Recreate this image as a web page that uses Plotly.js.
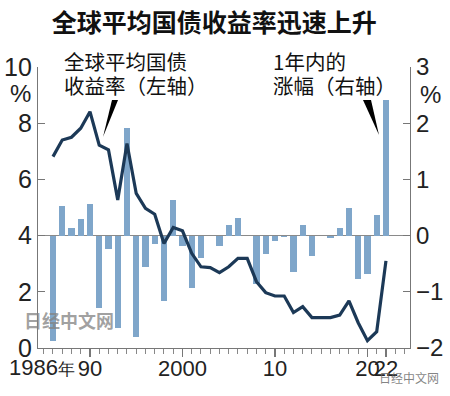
<!DOCTYPE html>
<html>
<head>
<meta charset="utf-8">
<script src="https://cdn.plot.ly/plotly-3.0.1.min.js"></script>
<style>html,body{margin:0;padding:0;background:#fff;}#chart{width:450px;height:396px;}</style>
</head>
<body>
<div id="chart"></div>
<script>
const years = [1986,1987,1988,1989,1990,1991,1992,1993,1994,1995,1996,1997,1998,1999,2000,2001,2002,2003,2004,2005,2006,2007,2008,2009,2010,2011,2012,2013,2014,2015,2016,2017,2018,2019,2020,2021,2022];
const yieldAvg = [6.81,7.40,7.50,7.82,8.41,7.22,7.05,5.27,7.28,5.50,4.97,4.76,3.72,4.29,4.17,3.37,2.89,2.86,2.68,2.89,3.19,3.19,2.36,1.97,1.85,1.85,1.26,1.47,1.08,1.08,1.08,1.17,1.68,0.90,0.26,0.58,3.10];
const yearChange = [-1.87,0.53,0.14,0.30,0.56,-1.28,-0.24,-1.64,1.92,-1.81,-0.55,-0.15,-1.17,0.64,-0.19,-0.93,-0.39,0,-0.19,0.19,0.32,0,-0.87,-0.33,-0.09,-0.03,-0.65,0.18,-0.36,0,-0.04,0.13,0.49,-0.77,-0.68,0.36,2.41];
const xTickVals = [1990,2000,2010,2020,2022];
const xTickText = ["90","2000","10","20","22"];
const leftTicks = [0,2,4,6,8,10];
const rightTicks = [-2,-1,0,1,2,3];

const numFont = "Liberation Sans Narrow, Arial Narrow, Liberation Sans, Arial, sans-serif";
const cjkFont = "Noto Sans CJK SC, sans-serif";

const traces = [
  {type:'bar', x:years, y:yearChange, yaxis:'y', marker:{color:'#7fa6ca'}, width:0.66, hoverinfo:'x+y'},
  {type:'scatter', mode:'lines', x:years, y:yieldAvg, yaxis:'y2', line:{color:'#1c3957', width:3.2}}
];

const P = (px)=> (px-38)/372, Q = (py)=> (348-py)/281;

const layout = {
  width:450, height:396,
  margin:{l:38, r:40, t:67, b:48},
  paper_bgcolor:'#fff', plot_bgcolor:'#fff',
  showlegend:false,
  bargap:0,
  title:{text:'全球平均国债收益率迅速上升', x:0.476, xanchor:'center', y:0.942, yanchor:'middle',
         font:{family:cjkFont, size:25, color:'#111', weight:'bold'}},
  xaxis:{range:[1984.38,2024.6], showgrid:false, zeroline:false, showline:true, linecolor:'#777', linewidth:1.2,
         tickmode:'array', tickvals:xTickVals, ticktext:xTickText, ticks:'outside', ticklen:8, tickcolor:'#777', tickwidth:1.2,
         tickangle:0, ticklabelstandoff:-8,
         minor:{tickmode:'linear', tick0:1986, dtick:1, ticks:'outside', ticklen:5, tickcolor:'#888', tickwidth:1},
         tickfont:{family:numFont, size:22, color:'#222'}},
  yaxis:{side:'right', range:[-2,3], tickvals:rightTicks, showgrid:false, zeroline:true, zerolinecolor:'#8a8a8a', zerolinewidth:1.5,
         showline:true, linecolor:'#777', linewidth:1.2, ticks:'inside', ticklen:7, tickcolor:'#777',
         tickfont:{family:numFont, size:24, color:'#222'}},
  yaxis2:{side:'left', overlaying:'y', range:[0,10], tickvals:leftTicks, showgrid:false, zeroline:false,
         showline:true, linecolor:'#777', linewidth:1.2, ticks:'inside', ticklen:7, tickcolor:'#777',
         tickfont:{family:numFont, size:25, color:'#222'}},
  annotations:[
    {xref:'paper', yref:'paper', x:P(62), y:Q(60.5), xanchor:'left', yanchor:'middle', showarrow:false, text:'全球平均国债', font:{family:cjkFont, size:20.5, color:'#111'}},
    {xref:'paper', yref:'paper', x:P(62), y:Q(85), xanchor:'left', yanchor:'middle', showarrow:false, text:'收益率（左轴）', font:{family:cjkFont, size:20.5, color:'#111'}},
    {xref:'paper', yref:'paper', x:P(271), y:Q(60.5), xanchor:'left', yanchor:'middle', showarrow:false, text:'1年内的', font:{family:cjkFont, size:20.5, color:'#111'}},
    {xref:'paper', yref:'paper', x:P(271), y:Q(85), xanchor:'left', yanchor:'middle', showarrow:false, text:'涨幅（右轴）', font:{family:cjkFont, size:20.5, color:'#111'}},
    {xref:'paper', yref:'paper', x:P(20), y:Q(93), xanchor:'center', yanchor:'middle', showarrow:false, text:'%', font:{family:numFont, size:24, color:'#222'}},
    {xref:'paper', yref:'paper', x:P(430), y:Q(94), xanchor:'center', yanchor:'middle', showarrow:false, text:'%', font:{family:numFont, size:24, color:'#222'}},
    {xref:'paper', yref:'paper', x:P(42), y:Q(367), xanchor:'center', yanchor:'middle', showarrow:false, text:'1986<span style="font-size:17px">年</span>', font:{family:numFont, size:22, color:'#222'}},
    {xref:'paper', yref:'paper', x:P(69), y:Q(320), xanchor:'center', yanchor:'middle', showarrow:false, text:'日经中文网', font:{family:cjkFont, size:18, color:'rgba(130,130,130,0.75)', weight:'bold'}},
    {xref:'paper', yref:'paper', x:P(409), y:Q(377), xanchor:'center', yanchor:'middle', showarrow:false, text:'日经中文网', font:{family:cjkFont, size:12, color:'rgba(110,110,110,0.85)'}}
  ],
  shapes:[
    {type:'path', xref:'paper', yref:'paper', path:`M${P(112)},${Q(100)} L${P(118)},${Q(100)} L${P(103)},${Q(137)} Z`, fillcolor:'#000', line:{width:0}},
    {type:'path', xref:'paper', yref:'paper', path:`M${P(363)},${Q(100)} L${P(371)},${Q(100)} L${P(379)},${Q(135)} Z`, fillcolor:'#000', line:{width:0}}
  ]
};

Plotly.newPlot('chart', traces, layout, {displayModeBar:false, staticPlot:true});
</script>
</body>
</html>
